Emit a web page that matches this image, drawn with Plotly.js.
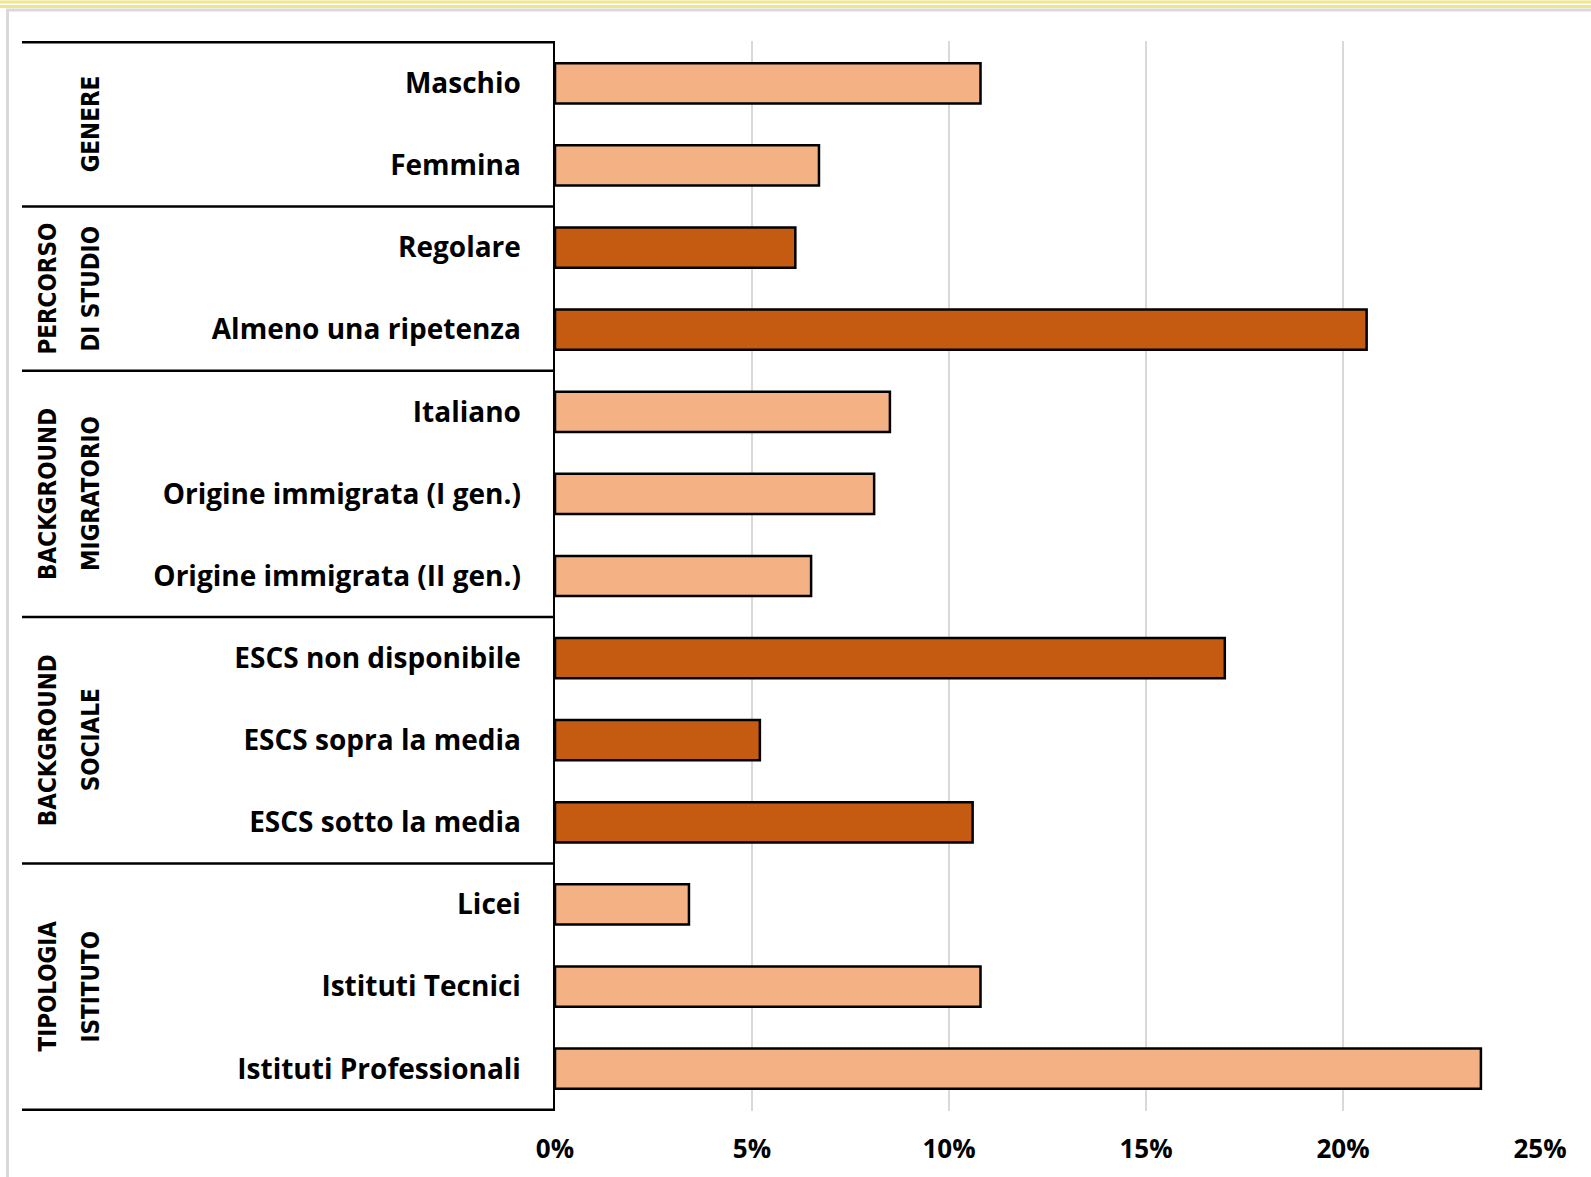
<!DOCTYPE html>
<html>
<head>
<meta charset="utf-8">
<script src="https://cdn.plot.ly/plotly-3.0.1.min.js"></script>
<style>html,body{margin:0;padding:0;background:#fff;}#chart{width:1591px;height:1177px;}</style>
</head>
<body>
<div id="chart"></div>
<script>
// Data
const categories = ["Maschio","Femmina","Regolare","Almeno una ripetenza","Italiano","Origine immigrata (I gen.)","Origine immigrata (II gen.)","ESCS non disponibile","ESCS sopra la media","ESCS sotto la media","Licei","Istituti Tecnici","Istituti Professionali"];
const values = [10.8, 6.7, 6.1, 20.6, 8.5, 8.1, 6.5, 17.0, 5.2, 10.6, 3.4, 10.8, 23.5];
const groupLine1 = ["", "PERCORSO", "BACKGROUND", "BACKGROUND", "TIPOLOGIA"];
const groupLine2 = ["GENERE", "DI STUDIO", "MIGRATORIO", "SOCIALE", "ISTITUTO"];
const groupSizes = [2, 2, 3, 3, 3];
const groupShade = ["light","dark","light","dark","light"];
const xTickVals = [0, 5, 10, 15, 20, 25];
const xTickText = ["0%","5%","10%","15%","20%","25%"];

const LIGHT = "#F4B183", DARK = "#C55A11";
const colors = [];
groupSizes.forEach((n,g)=>{ for(let i=0;i<n;i++) colors.push(groupShade[g]==="dark"?DARK:LIGHT); });

const W=1591,H=1177, L=555, R=51, T=41, B=66;
const plotW = W-L-R, plotH = H-T-B;
const px2x = p => (p-L)/plotW;
const py2y = p => (H-B-p)/plotH;

const shapes = [];
const annotations = [];
// group separator lines (left table)
let start = 0;
const bounds = [-0.5];
groupSizes.forEach(n=>{ start += n; bounds.push(start-0.5); });
bounds.forEach(b=>{
  shapes.push({type:'line', xref:'paper', yref:'y', x0:px2x(22), x1:0, y0:b, y1:b, line:{color:'#000', width:2.5}});
});
// group labels
const gFont = {family:'Liberation Sans Narrow, DejaVu Sans Condensed, Roboto, sans-serif', size:24, color:'#000', weight:'bold'};
start = 0;
groupSizes.forEach((n,g)=>{
  const mid = start + (n-1)/2;
  [[groupLine1[g], 48],[groupLine2[g], 91]].forEach(([t,xp])=>{
    if(!t) return;
    annotations.push({xref:'paper', yref:'y', x: px2x(xp), y: mid, text: t, textangle:-90,
      showarrow:false, xanchor:'center', yanchor:'middle', font:gFont});
  });
  start += n;
});
// page decorations
shapes.push({type:'line', xref:'paper', yref:'paper', x0:px2x(0), x1:px2x(W), y0:py2y(2), y1:py2y(2), line:{color:'#F0E58A', width:3}});
shapes.push({type:'line', xref:'paper', yref:'paper', x0:px2x(0), x1:px2x(W), y0:py2y(6.5), y1:py2y(6.5), line:{color:'#F0E58A', width:3}});
shapes.push({type:'line', xref:'paper', yref:'paper', x0:px2x(6), x1:px2x(W), y0:py2y(10), y1:py2y(10), line:{color:'#D9D9D9', width:3}});
shapes.push({type:'line', xref:'paper', yref:'paper', x0:px2x(7.5), x1:px2x(7.5), y0:py2y(10), y1:py2y(H), line:{color:'#D9D9D9', width:3}});

const trace = {
  type:'bar', orientation:'h', x: values, y: categories, width:0.49,
  marker:{color:colors, line:{color:'#000', width:2.5}},
  hoverinfo:'none'
};

const layout = {
  width:W, height:H, margin:{l:L, r:R, t:T, b:B},
  paper_bgcolor:'#fff', plot_bgcolor:'#fff', showlegend:false,
  xaxis:{range:[0,25], tickvals:xTickVals, ticktext:xTickText, showgrid:true, gridcolor:'#D9D9D9', gridwidth:2.5,
    zeroline:false, showline:false, ticks:'', ticklabelstandoff:20,
    tickfont:{family:'Open Sans, sans-serif', size:26, color:'#000', weight:'bold'}, fixedrange:true},
  yaxis:{type:'category', autorange:'reversed', showline:true, linecolor:'#000', linewidth:2.5, showgrid:false,
    ticks:'', ticklabelstandoff:26,
    tickfont:{family:'Open Sans, sans-serif', size:28, color:'#000', weight:'bold'}},
  shapes: shapes, annotations: annotations
};
Plotly.newPlot('chart', [trace], layout, {displayModeBar:false, staticPlot:true});
</script>
</body>
</html>
